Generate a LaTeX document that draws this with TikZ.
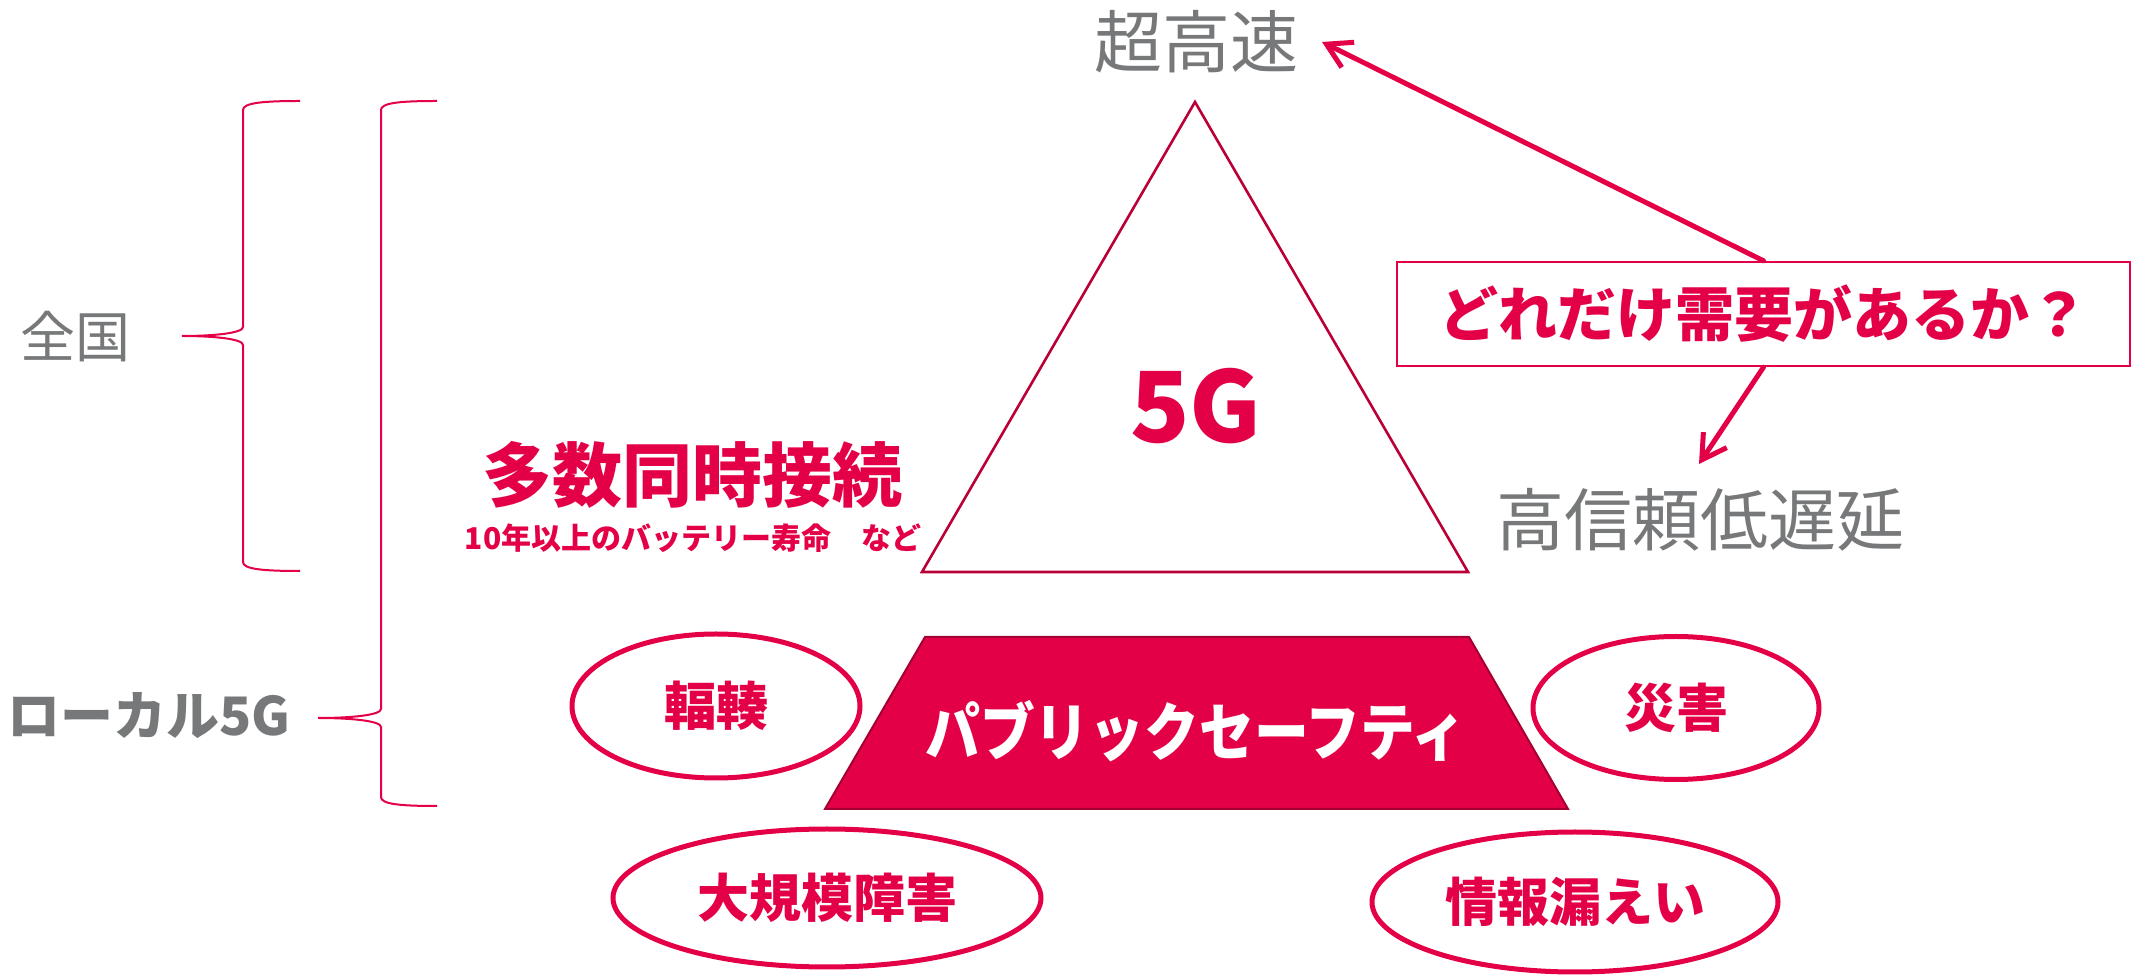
\documentclass[tikz,border=0pt]{standalone}
\usepackage{fontspec}
\setmainfont{Noto Sans CJK JP}
\usetikzlibrary{arrows.meta,shapes.geometric}
\definecolor{brand}{RGB}{228,0,70}
\definecolor{brandDark}{RGB}{185,0,55}
\definecolor{trapEdge}{RGB}{165,0,50}
\definecolor{txtgray}{RGB}{118,120,122}
\newcommand{\fsz}[1]{\fontsize{#1}{#1}\selectfont}
\tikzset{
  graytxt/.style={text=txtgray, inner sep=0pt},
  redtxt/.style={text=brand, inner sep=0pt},
  bubble/.style={ellipse, draw=brand, line width=2.5pt, inner sep=0pt, text=brand, font={\bfseries\fsz{26pt}}},
  bracestyle/.style={draw=brand, line width=1pt},
  callout/.style={draw=brand, line width=2.5pt, line cap=round, -{Straight Barb[length=12pt,width=14pt]}},
}
\begin{document}
\begin{tikzpicture}[x=0.5pt,y=-0.5pt]
\useasboundingbox (0,0) rectangle (2138,977);

% braces
\draw[bracestyle] (300,101) .. controls (262,101) and (243,103) .. (243,110) -- (243,327)
  .. controls (243,333) and (215,336) .. (182,336)
  .. controls (215,336) and (243,339) .. (243,345) -- (243,562)
  .. controls (243,569) and (262,571) .. (300,571);
\draw[bracestyle] (437,101) .. controls (399,101) and (381,103) .. (381,110) -- (381,709)
  .. controls (381,715) and (352,718) .. (318,718)
  .. controls (352,718) and (381,721) .. (381,727) -- (381,797)
  .. controls (381,804) and (399,806) .. (437,806);

\node[graytxt, font={\fsz{27.5pt}}] (zenkoku) at (75,337) {全国};
\node[graytxt, font={\bfseries\fsz{26.5pt}}] (local) at (149,716) {ローカル5G};

% triangle
\coordinate (apex) at (1195,102);
\coordinate (bl) at (922,572);
\coordinate (br) at (1468,572);
\draw[brandDark, line width=1.3pt, line join=miter] (apex) -- (br) -- (bl) -- cycle;
\node[redtxt, font={\bfseries\fsz{49pt}}] (fiveg) at (1196,406) {5G};

\node[graytxt, font={\fsz{34pt}}] (chou) at (1196,42) {超高速};
\node[graytxt, font={\fsz{34pt}}] (koshin) at (1700,520) {高信頼低遅延};

\node[redtxt, font={\bfseries\fsz{35pt}}] (tasuu) at (692,475) {多数同時接続};
\node[redtxt, font={\bfseries\fsz{15pt}}] (battery) at (693,538) {10年以上のバッテリー寿命　など};

% question box and arrows
\node[draw=brand, line width=1.2pt, minimum width=366.5pt, minimum height=52pt, inner sep=0pt,
      text=brand, font={\bfseries\fsz{29.5pt}}] (q) at (1763.5,314) {どれだけ需要があるか？};
\coordinate (tipA) at (1322,42);
\coordinate (tipB) at (1699,464);
\draw[callout] (q.north) -- (tipA);
\draw[callout] (q.south) -- (tipB);

% trapezoid
\filldraw[fill=brand, draw=trapEdge, line width=1pt] (925,637) -- (1469,637) -- (1568,809) -- (825,809) -- cycle;
\node[text=white, inner sep=0pt, font={\bfseries\fsz{31.5pt}}] (ps) at (1196,731) {\scalebox{0.87}[1]{パブリックセーフティ}};

% bubbles
\node[bubble, minimum width=144pt, minimum height=72pt] (fukuso) at (716,706) {輻輳};
\node[bubble, minimum width=143pt, minimum height=71.5pt] (saigai) at (1676,708) {災害};
\node[bubble, minimum width=214pt, minimum height=69pt] (daikibo) at (827,898) {大規模障害};
\node[bubble, minimum width=203pt, minimum height=70pt] (joho) at (1575,902) {情報漏えい};
\end{tikzpicture}
\end{document}
